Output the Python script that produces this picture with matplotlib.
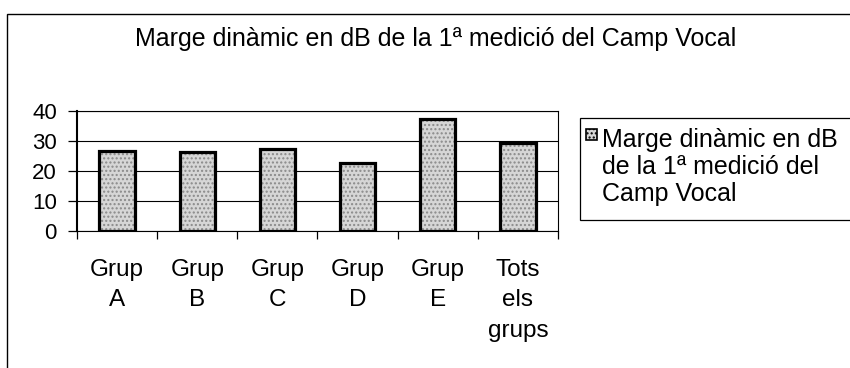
import matplotlib.pyplot as plt
from matplotlib.patches import Rectangle

plt.rcParams['font.family'] = ['Liberation Sans', 'DejaVu Sans']

# Data
groups = ['Grup\nA', 'Grup\nB', 'Grup\nC', 'Grup\nD', 'Grup\nE', 'Tots\nels\ngrups']
values = [26.8, 26.2, 27.4, 22.6, 37.2, 29.2]
series_name = 'Marge dinàmic en dB\nde la 1ª medició del\nCamp Vocal'
title = 'Marge dinàmic en dB de la 1ª medició del Camp Vocal'
yticks = [0, 10, 20, 30, 40]

W, H = 850, 368
fig = plt.figure(figsize=(W / 100, H / 100), dpi=100)
ax = fig.add_axes([77 / W, 1 - 231 / H, (558 - 77) / W, 120 / H])

# outer chart frame
fig.patches.append(Rectangle((7 / W, -0.1), 1.1, 1.1 - 14 / H, transform=fig.transFigure,
                             fill=False, edgecolor='black', linewidth=1.0))

x = range(len(groups))
ax.bar(x, values, width=0.44, color='#d6d6d6', edgecolor='#8a8a8a',
       hatch='....', linewidth=0, zorder=3)
ax.bar(x, values, width=0.44, fill=False, edgecolor='black', linewidth=2.3, zorder=4)

ax.set_xlim(-0.5, len(groups) - 0.5)
ax.set_ylim(0, 40)
ax.set_yticks(yticks)
ax.yaxis.grid(True, color='black', linewidth=0.8)
ax.set_axisbelow(True)
for s in ax.spines.values():
    s.set_color('black')
    s.set_linewidth(0.8)
ax.spines['left'].set_linewidth(1.5)

# category boundary ticks, labels centered under the bars
ax.set_xticks([i + 0.5 for i in range(-1, len(groups))])
ax.set_xticklabels([])
ax.set_xticks(list(x), minor=True)
ax.set_xticklabels(groups, minor=True, fontsize=17.5, linespacing=1.5)
ax.tick_params(axis='x', which='major', direction='out', length=6, width=0.9)
ax.tick_params(axis='x', which='minor', length=0, pad=20)
ax.tick_params(axis='y', direction='out', length=6.5, width=0.9, labelsize=16, pad=8)

fig.text(436 / W, 1 - 39 / H, title, ha='center', va='center', fontsize=18)

# legend box drawn like the original (runs off the right edge)
fig.patches.append(Rectangle((580 / W, 1 - 220 / H), 1.0, 102 / H, transform=fig.transFigure,
                             facecolor='white', edgecolor='black', linewidth=0.9))
fig.patches.append(Rectangle((586 / W, 1 - 140 / H), 11 / W, 11 / H, transform=fig.transFigure,
                             facecolor='#d6d6d6', edgecolor='black', hatch='....', linewidth=1.2))
fig.text(602 / W, 1 - 128 / H, series_name, ha='left', va='top', fontsize=18, linespacing=1.15)

fig.savefig('out.png', dpi=100)
